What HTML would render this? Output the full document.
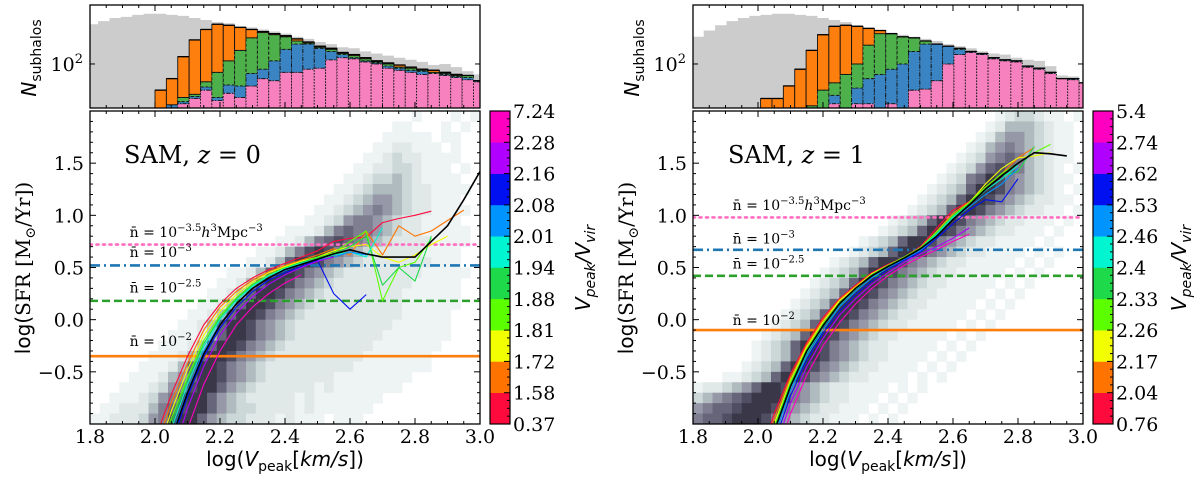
<!DOCTYPE html>
<html><head><meta charset="utf-8">
<style>
html,body{margin:0;padding:0;background:#fff;width:1200px;height:486px;overflow:hidden;}
svg{display:block;overflow:hidden;}
.tk{font-family:"DejaVu Serif","Liberation Serif",serif;font-size:19px;fill:#000;}
.ax{font-family:"DejaVu Sans","Liberation Sans",sans-serif;font-size:20px;fill:#000;}
.nl{font-family:"DejaVu Serif","Liberation Serif",serif;font-size:14px;fill:#000;}
.sam{font-family:"DejaVu Serif","Liberation Serif",serif;font-size:24px;fill:#000;}
</style></head>
<body>
<svg id="fig" width="1200" height="486" viewBox="0 0 1200 486" xmlns="http://www.w3.org/2000/svg">
  <defs>
    <clipPath id="clipL"><rect x="90" y="111" width="390" height="313"/></clipPath>
    <clipPath id="clipR"><rect x="693" y="111" width="390" height="313"/></clipPath>
    <clipPath id="clipHL"><rect x="90" y="5" width="390" height="103"/></clipPath>
    <clipPath id="clipHR"><rect x="693" y="5" width="390" height="103"/></clipPath>
  </defs>
  <g id="layer"></g>

  <text class="ax" transform="translate(30,268) rotate(-90)" text-anchor="middle">log(<tspan font-family="DejaVu Serif,serif">SFR [M</tspan><tspan font-family="DejaVu Serif,serif" font-size="14" dy="5">⊙</tspan><tspan font-family="DejaVu Serif,serif" dy="-5">/Yr])</tspan></text>
  <text class="ax" transform="translate(633,268) rotate(-90)" text-anchor="middle">log(<tspan font-family="DejaVu Serif,serif">SFR [M</tspan><tspan font-family="DejaVu Serif,serif" font-size="14" dy="5">⊙</tspan><tspan font-family="DejaVu Serif,serif" dy="-5">/Yr])</tspan></text>
  <text class="ax" transform="translate(36,58) rotate(-90)" text-anchor="middle"><tspan font-style="italic">N</tspan><tspan font-size="14" dy="5">subhalos</tspan></text>
  <text class="ax" transform="translate(639,58) rotate(-90)" text-anchor="middle"><tspan font-style="italic">N</tspan><tspan font-size="14" dy="5">subhalos</tspan></text>
  <text class="ax" x="285" y="466" text-anchor="middle">log(<tspan font-style="italic">V</tspan><tspan font-size="14" dy="5">peak</tspan><tspan dy="-5">[</tspan><tspan font-style="italic">km/s</tspan>])</text>
  <text class="ax" x="888" y="466" text-anchor="middle">log(<tspan font-style="italic">V</tspan><tspan font-size="14" dy="5">peak</tspan><tspan dy="-5">[</tspan><tspan font-style="italic">km/s</tspan>])</text>
  <text class="ax" transform="translate(590,268) rotate(-90)" text-anchor="middle" font-style="italic">V<tspan font-size="14" dy="5">peak</tspan><tspan dy="-5">/V</tspan><tspan font-size="14" dy="5">vir</tspan></text>
  <text class="ax" transform="translate(1186,268) rotate(-90)" text-anchor="middle" font-style="italic">V<tspan font-size="14" dy="5">peak</tspan><tspan dy="-5">/V</tspan><tspan font-size="14" dy="5">vir</tspan></text>
  <text class="sam" x="124" y="163">SAM, <tspan font-style="italic">z</tspan> = 0</text>
  <text class="sam" x="728" y="163">SAM, <tspan font-style="italic">z</tspan> = 1</text>
</svg>
<script>
const heatLeft = [
"0000000000000000000000000000000001000101",
"0000000000000000000000000000000110001010",
"0000000000000000000000000000001111101100",
"0000000000000000000000000000011221110100",
"0000000000000000000000000000112322111100",
"0000000000000000000000000001122332111010",
"0000000000000000000000000011233432111100",
"0000000000000000000000000112344432211110",
"0000000000000000000000001123455432211100",
"0000000000000000000000011234565432211110",
"0000000000000000000000112356654322111100",
"0000000000000000000011124676654322111110",
"0000000000000000000112467876543222211110",
"0000000000000000011246898654322222111100",
"0000000000000000112479986543222222211100",
"0000000000000011247998654322222222111110",
"0000000000000112479986543222222221111100",
"0000000000001124799865432222222211111100",
"0000000000011247998654322222222211111100",
"0000000000112479986543222222222211111000",
"0000000001124799865432222222222111111000",
"0000000011124799865432222222221111111000",
"0000000111247998654322222222211111110000",
"0000001112479986543222222222111111100000",
"0000011124799865432222222221111111100000",
"0000111245799865432222222111111110000000",
"0001112356899754322222212111111100000000",
"0011123568997543222221211111110000000000",
"0112224678997543322221211111100000000000",
"1122235689975433222121110111000000000000"];
const heatRight = [
"0000000000000000000000000000000123321101",
"0000000000000000000000000000001244432110",
"0000000000000000000000000000012455432110",
"0000000000000000000000000000124565432110",
"0000000000000000000000000001235676432110",
"0000000000000000000000000012357876432101",
"0000000000000000000000000123679865432110",
"0000000000000000000000001234799865432101",
"0000000000000000000000012347998654322110",
"0000000000000000000000123479986543221101",
"0000000000000000000012347998654322111010",
"0000000000000000000123479986543221110100",
"0000000000000000012347998654322111101000",
"0000000000000000123479986543221111010100",
"0000000000000012347998654322111110101000",
"0000000000000123479986543221111101010000",
"0000000000001234799865432211111010100000",
"0000000000012347998654322111110101000000",
"0000000000123479986543221111101010000000",
"0000000001234799865432211111010100000000",
"0000000012347998654322111110101000000000",
"0000000123479986543221111101010000000000",
"0000001234799865432211111010100000000000",
"0000001234799865432211110101000000000000",
"0000012347998654322111101010000000000000",
"0001123479986543221111010100000000000000",
"1223457998654322111101010000000000000000",
"3456789998654322111010100000000000000000",
"5677899986543221110101000000000000000000",
"6778999865432211101010000000000000000000"];

const lineX = [2.00,2.05,2.10,2.15,2.20,2.25,2.30,2.35,2.40,2.45,2.50,2.55,2.60,2.65,2.70,2.75,2.80,2.85,2.90,2.95,3.00];
const leftRed     = [-1.15,-0.72,-0.35,-0.05,0.15,0.30,0.40,0.48,0.54,0.60,0.66,0.75,0.78,0.79,0.93,0.97,1.00,1.04];
const leftOrange  = [-1.25,-0.80,-0.42,-0.10,0.12,0.27,0.38,0.46,0.52,0.57,0.62,0.68,0.62,0.85,0.62,0.90,0.80,0.85,0.95,1.05];
const leftYellow  = [-1.35,-0.88,-0.48,-0.15,0.08,0.24,0.36,0.45,0.51,0.56,0.60,0.66,0.70,0.72,0.60,0.55,0.62,0.72,0.80];
const leftLime    = [-1.45,-0.95,-0.55,-0.20,0.04,0.21,0.34,0.43,0.50,0.55,0.60,0.64,0.75,0.85,0.18,0.50,0.55,0.78];
const leftGreen   = [-1.52,-1.00,-0.58,-0.23,0.02,0.20,0.33,0.42,0.49,0.55,0.59,0.63,0.70,0.80,0.33,0.50,0.37,0.80];
const leftCyan    = [-1.60,-1.05,-0.62,-0.26,0.00,0.18,0.32,0.42,0.49,0.54,0.58,0.62,0.65,0.60,0.88];
const leftLBlue   = [-1.70,-1.12,-0.68,-0.30,-0.04,0.15,0.30,0.40,0.47,0.53,0.57,0.60,0.65,0.62];
const leftBlue    = [-1.80,-1.20,-0.74,-0.36,-0.08,0.12,0.27,0.38,0.45,0.51,0.57,0.25,0.10,0.24];
const leftPurple  = [-2.00,-1.35,-0.85,-0.45,-0.15,0.06,0.22,0.34,0.43,0.50,0.56,0.60];
const leftMagenta = [null,-1.60,-1.05,-0.62,-0.30,-0.05,0.12,0.25,0.35,0.43];
const leftBlack   = [-1.75,-1.15,-0.70,-0.33,-0.05,0.15,0.30,0.40,0.48,0.53,0.58,0.63,0.67,0.63,0.60,0.60,0.60,0.75,0.90,1.15,1.42];

const rightRed     = [-1.40,-0.90,-0.52,-0.22,0.02,0.20,0.33,0.45,0.53,0.60,0.70,0.88,1.05,1.13];
const rightOrange  = [-1.45,-0.95,-0.55,-0.24,0.00,0.19,0.32,0.44,0.52,0.60,0.69,0.85,1.02,1.13,1.27,1.40,1.55,1.65];
const rightYellow  = [-1.50,-1.00,-0.58,-0.26,-0.02,0.18,0.31,0.44,0.52,0.60,0.69,0.84,1.00,1.12,1.30,1.45,1.55,1.57,1.60];
const rightLime    = [-1.55,-1.03,-0.60,-0.28,-0.04,0.16,0.30,0.43,0.52,0.60,0.69,0.84,1.00,1.12,1.27,1.40,1.50,1.60,1.68];
const rightGreen   = [-1.58,-1.05,-0.62,-0.30,-0.05,0.15,0.30,0.43,0.51,0.59,0.68,0.83,0.99,1.11,1.25,1.38,1.42,1.66];
const rightCyan    = [-1.62,-1.08,-0.65,-0.32,-0.07,0.14,0.29,0.42,0.51,0.59,0.68,0.82,0.98,1.10,1.24,1.35,1.48];
const rightLBlue   = [-1.68,-1.12,-0.68,-0.35,-0.10,0.12,0.27,0.40,0.50,0.58,0.66,0.80,0.96,1.08,1.20,1.30,1.45];
const rightBlue    = [-1.75,-1.18,-0.73,-0.39,-0.13,0.08,0.24,0.37,0.48,0.57,0.65,0.78,0.92,1.05,1.15,1.13,1.35];
const rightPurple  = [-1.85,-1.26,-0.80,-0.45,-0.18,0.04,0.20,0.34,0.45,0.55,0.63,0.70,0.78,0.88];
const rightMagenta = [-2.00,-1.38,-0.90,-0.53,-0.25,-0.03,0.15,0.30,0.42,0.52,0.60,0.67,0.75,0.82];
const rightBlack   = [-1.60,-1.07,-0.64,-0.30,-0.06,0.15,0.30,0.42,0.51,0.59,0.68,0.80,0.96,1.10,1.25,1.38,1.50,1.60,1.59,1.57];

const densityLeft  = [0.72, 0.52, 0.18, -0.35];
const densityRight = [0.98, 0.67, 0.42, -0.10];

const cbarLeftTicks  = ["0.37","1.58","1.72","1.81","1.88","1.94","2.01","2.08","2.16","2.28","7.24"];
const cbarRightTicks = ["0.76","2.04","2.17","2.26","2.33","2.4","2.46","2.53","2.62","2.74","5.4"];

const yTickVals = [-0.5, 0.0, 0.5, 1.0, 1.5];
const yTickLabels = ["\u22120.5","0.0","0.5","1.0","1.5"];
const xTickVals = [1.8, 2.0, 2.2, 2.4, 2.6, 2.8, 3.0];
const xTickLabels = ["1.8","2.0","2.2","2.4","2.6","2.8","3.0"];

const histBinWidth = 0.035;
const histStartLeft = 2.0;
const histStartRight = 2.008;
const greyLeft  = [2.38,2.41,2.44,2.45,2.47,2.48,2.48,2.47,2.46,2.44,2.42,2.40,2.39,2.36,2.35,2.33,2.31,2.29,2.26,2.24,2.21,2.19,2.16,2.15,2.12,2.10,2.08,2.06,2.04,2.02,1.99,2.00,1.97,1.93,1.90];
const pinkLeft   = [null,null,1.62,1.67,1.75,1.65,1.72,1.68,1.79,1.86,1.84,1.92,1.92,1.95,1.96,2.04,2.06,2.05,2.02,2.00,1.96,1.94,1.92,1.90,1.91,1.89,1.87,1.85,1.83];
const blueLeft   = [null,1.61,1.64,1.69,1.78,1.68,1.80,1.79,1.91,1.95,2.03,2.14,2.19,2.19,2.15,2.12,2.09,2.06,2.03,2.01,1.98,1.96,1.94,1.93,1.91,1.90,1.88,1.87,1.84];
const greenLeft  = [null,1.61,1.68,1.71,1.83,1.92,2.03,2.13,2.25,2.30,2.28,2.26,2.22,2.20,2.16,2.14,2.10,2.08,2.05,2.02,2.00,1.97,1.96,1.94,1.92,1.91,1.89,1.89,1.84];
const orangeLeft = [1.75,1.86,2.07,2.23,2.33,2.38,2.37,2.35,2.33,2.31,2.29,2.27,2.24,2.21,2.17,2.15,2.11,2.09,2.06,2.03,2.01,1.99,1.97,1.95,1.94,1.92,1.90,1.89,1.84];
const greyRight  = [2.26,2.32,2.37,2.41,2.44,2.46,2.47,2.48,2.48,2.47,2.46,2.44,2.42,2.40,2.37,2.35,2.32,2.30,2.28,2.26,2.24,2.22,2.19,2.17,2.15,2.12,2.10,2.09,2.06,2.04,2.03,1.98,1.89,1.88,1.82];
const pinkRight   = [null,null,null,null,null,null,1.62,null,1.62,1.62,null,1.62,null,1.75,1.76,1.84,2.00,2.09,2.11,2.09,2.05,2.03,2.02,1.97,1.95,1.91,1.86,1.85,1.82];
const blueRight   = [null,null,null,null,null,null,1.70,null,1.77,1.86,1.90,1.95,2.00,2.12,2.19,2.19,2.17,2.14,2.12,2.10,2.06,2.04,2.03,1.98,1.96,1.92,1.86,1.86,1.82];
const greenRight  = [null,null,null,null,1.60,1.75,1.82,1.90,2.00,2.18,2.29,2.29,2.26,2.25,2.22,2.19,2.17,2.15,2.12,2.10,2.06,2.04,2.03,1.98,1.96,1.92,1.86,1.86,1.82];
const orangeRight = [1.67,1.67,1.79,1.95,2.13,2.28,2.36,2.37,2.36,2.34,2.32,2.29,2.26,2.25,2.22,2.19,2.17,2.15,2.12,2.10,2.06,2.04,2.03,1.98,1.96,1.92,1.86,1.86,1.82];

const NS = "http://www.w3.org/2000/svg";
const layer = document.getElementById('layer');
function mk(tag, attrs, parent) {
  const e = document.createElementNS(NS, tag);
  for (const k in attrs) e.setAttribute(k, attrs[k]);
  (parent || layer).appendChild(e);
  return e;
}
const colors = ["#ff0a3c","#ff7400","#f2ff00","#5cff00","#1ed94a","#00f5d0","#0094ff","#0010f0","#b000ff","#ff00c0"];
const heatPal = ["#ffffff","#eef3f3","#e0e8e8","#ccd7d8","#b0bbc0","#9698a8","#7f7e91","#66657a","#504e62","#3a3848"];
const HB = 108, HT = 5, LMIN = 1.579, LMAX = 2.564;
const MB = 424, MT = 111;

function panel(cfg) {
  const X = v => cfg.x0 + (v - 1.8) / 1.2 * (cfg.x1 - cfg.x0);
  const Y = v => MB - (v + 1) / 3 * (MB - MT);
  const YH = l => HB - (l - LMIN) / (LMAX - LMIN) * (HB - HT);

  const hg = mk('g', {'clip-path': 'url(#' + cfg.hclip + ')'});
  
  
  let d = '';
  cfg.grey.forEach((l, i) => {
    const a = X(cfg.hstart + (i - 6) * histBinWidth), b = X(cfg.hstart + (i - 5) * histBinWidth);
    d += (i === 0 ? 'M' + a + ',' + HB : '') + 'L' + a + ',' + YH(l) + 'L' + b + ',' + YH(l);
    if (i === cfg.grey.length - 1) d += 'L' + b + ',' + HB + 'Z';
  });
  const gp = mk('path', {d: d, fill: '#cccccc', stroke: 'none'}, hg);
  
  
  const segs = [[cfg.pink, '#f781bf', '1.5 1.5'], [cfg.blue, '#3a84c4', '4 1.5 1 1.5'], [cfg.green, '#4eb04a', '3 2'], [cfg.orange, '#ff7f0e', '']];
  for (let i = 0; i < cfg.orange.length; i++) {
    const a = X(cfg.hstart + i * histBinWidth), b = X(cfg.hstart + (i + 1) * histBinWidth);
    let bottom = HB;
    segs.forEach(([arr, col, dash]) => {
      const v = arr[i];
      if (v == null) return;
      const top = YH(v);
      if (bottom - top < 0.3) { bottom = Math.min(bottom, top); return; }
      const r = mk('rect', {x: a, y: top, width: b - a, height: bottom - top, fill: col, stroke: '#111', 'stroke-width': 0.9, 'stroke-dasharray': dash}, hg);
      
      
      bottom = top;
    });
    const tl = mk('line', {x1: a, x2: b, y1: YH(cfg.orange[i]), y2: YH(cfg.orange[i]), stroke: '#000', 'stroke-width': 1.3}, hg);
    
    
  }
  const hbox = mk('rect', {x: cfg.x0, y: HT, width: cfg.x1 - cfg.x0, height: HB - HT, fill: 'none', stroke: '#000', 'stroke-width': 1.3});
  
  
  const hy = YH(2);
  [[cfg.x0, cfg.x0 + 5], [cfg.x1, cfg.x1 - 5]].forEach(([p, q]) => {
    const t = mk('line', {x1: p, x2: q, y1: hy, y2: hy, stroke: '#000', 'stroke-width': 1});
    
    
  });
  const hl = mk('text', {x: cfg.x0 - 7, y: hy + 7, 'text-anchor': 'end', class: 'tk'});
  
  
  hl.innerHTML = '10<tspan font-size="13" dy="-8">2</tspan>';

  const mg = mk('g', {'clip-path': 'url(#' + cfg.mclip + ')'});
  
  
  const cw = (cfg.x1 - cfg.x0) / 40, ch = (MB - MT) / 30;
  cfg.heat.forEach((row, r) => {
    for (let c = 0; c < 40; c++) {
      const v = +(row[c] || 0);
      if (!v) continue;
      const cell = mk('rect', {x: X(1.8 + 0.03 * c), y: Y(2.0 - 0.1 * r), width: cw + 0.4, height: ch + 0.4, fill: heatPal[v]}, mg);
      
      
    }
  });

  const styles = [['#ff6ec0', '2 4.5', 'round'], ['#1f77b4', '10 4 2 4', 'butt'], ['#2ca02c', '8 4', 'butt'], ['#ff7f0e', '', 'butt']];
  const names = ['density-line-1e-3.5', 'density-line-1e-3', 'density-line-1e-2.5', 'density-line-1e-2'];
  cfg.dens.forEach((v, i) => {
    const ln = mk('line', {x1: cfg.x0, x2: cfg.x1, y1: Y(v), y2: Y(v), stroke: styles[i][0], 'stroke-width': 2.6, 'stroke-dasharray': styles[i][1], 'stroke-linecap': styles[i][2]}, mg);
    
    
  });

  const drawLine = (arr, col, w, name) => {
    let dd = '', pen = false;
    lineX.forEach((x, i) => {
      const v = arr[i];
      if (v == null) { pen = false; return; }
      dd += (pen ? 'L' : 'M') + X(x).toFixed(1) + ',' + Y(v).toFixed(1);
      pen = true;
    });
    const p = mk('path', {d: dd, fill: 'none', stroke: col, 'stroke-width': w, 'stroke-linejoin': 'round'}, mg);
    
    
  };
  cfg.lines.forEach((arr, i) => drawLine(arr, colors[i], 1.1, cfg.side + '-median-line-bin-' + (i + 1)));
  drawLine(cfg.black, '#000', 1.6, cfg.side + '-median-line-all');

  const lab = [
    'n\u0304 = 10<tspan font-size="10" dy="-6">\u22123.5</tspan><tspan font-style="italic" dy="6">h</tspan><tspan font-size="10" dy="-6">3</tspan><tspan dy="6">Mpc</tspan><tspan font-size="10" dy="-6">\u22123</tspan>',
    'n\u0304 = 10<tspan font-size="10" dy="-6">\u22123</tspan>',
    'n\u0304 = 10<tspan font-size="10" dy="-6">\u22122.5</tspan>',
    'n\u0304 = 10<tspan font-size="10" dy="-6">\u22122</tspan>'];
  cfg.labY.forEach((v, i) => {
    const t = mk('text', {x: X(1.922), y: Y(v), class: 'nl'});
    
    
    t.innerHTML = lab[i];
  });

  const box = mk('rect', {x: cfg.x0, y: MT, width: cfg.x1 - cfg.x0, height: MB - MT, fill: 'none', stroke: '#000', 'stroke-width': 1.3});
  
  
  for (let k = 0; k <= 24; k++) {
    const x = X(1.8 + k * 0.05), L = (k % 4 === 0) ? 6 : 3;
    [[MB, MB - L], [MT, MT + L], [HB, HB - L], [HT, HT + L]].forEach(([p, q]) => {
      const t = mk('line', {x1: x, x2: x, y1: p, y2: q, stroke: '#000', 'stroke-width': 1});
      
      
    });
  }
  for (let k = 1; k < 30; k++) {
    const y = Y(-1 + k * 0.1), L = (k % 5 === 0) ? 6 : 3;
    [[cfg.x0, cfg.x0 + L], [cfg.x1, cfg.x1 - L]].forEach(([p, q]) => {
      const t = mk('line', {x1: p, x2: q, y1: y, y2: y, stroke: '#000', 'stroke-width': 1});
      
      
    });
  }
  xTickVals.forEach((v, i) => {
    const t = mk('text', {x: X(v), y: 443, 'text-anchor': 'middle', class: 'tk'});
    
    
    t.textContent = xTickLabels[i];
  });
  yTickVals.forEach((v, i) => {
    const t = mk('text', {x: cfg.x0 - 6, y: Y(v) + 7, 'text-anchor': 'end', class: 'tk'});
    
    
    t.textContent = yTickLabels[i];
  });

  const segH = (MB - MT) / 10;
  for (let i = 0; i < 10; i++) {
    const s = mk('rect', {x: cfg.cb, y: MB - (i + 1) * segH, width: 20, height: segH + 0.3, fill: colors[i]});
    
    
  }
  const cbf = mk('rect', {x: cfg.cb, y: MT, width: 20, height: MB - MT, fill: 'none', stroke: '#000', 'stroke-width': 1.2});
  
  
  for (let k = 1; k < 40; k++) {
    const y = MB - k * segH / 4, L = (k % 4 === 0) ? 6 : 3;
    const t = mk('line', {x1: cfg.cb + 20, x2: cfg.cb + 20 - L, y1: y, y2: y, stroke: '#000', 'stroke-width': 1});
    
    
  }
  cfg.cbt.forEach((lbl, i) => {
    const t = mk('text', {x: cfg.cb + 23, y: MB - i * segH + 7, class: 'tk'});
    
    
    t.textContent = lbl;
  });
}

panel({side: 'left', x0: 90, x1: 480, cb: 490, hclip: 'clipHL', mclip: 'clipL', heat: heatLeft,
  grey: greyLeft, pink: pinkLeft, blue: blueLeft, green: greenLeft, orange: orangeLeft, hstart: histStartLeft,
  dens: densityLeft, labY: [0.79, 0.60, 0.26, -0.25], cbt: cbarLeftTicks,
  lines: [leftRed, leftOrange, leftYellow, leftLime, leftGreen, leftCyan, leftLBlue, leftBlue, leftPurple, leftMagenta], black: leftBlack});
panel({side: 'right', x0: 693, x1: 1083, cb: 1093, hclip: 'clipHR', mclip: 'clipR', heat: heatRight,
  grey: greyRight, pink: pinkRight, blue: blueRight, green: greenRight, orange: orangeRight, hstart: histStartRight,
  dens: densityRight, labY: [1.05, 0.73, 0.49, -0.05], cbt: cbarRightTicks,
  lines: [rightRed, rightOrange, rightYellow, rightLime, rightGreen, rightCyan, rightLBlue, rightBlue, rightPurple, rightMagenta], black: rightBlack});
</script>
</body></html>
